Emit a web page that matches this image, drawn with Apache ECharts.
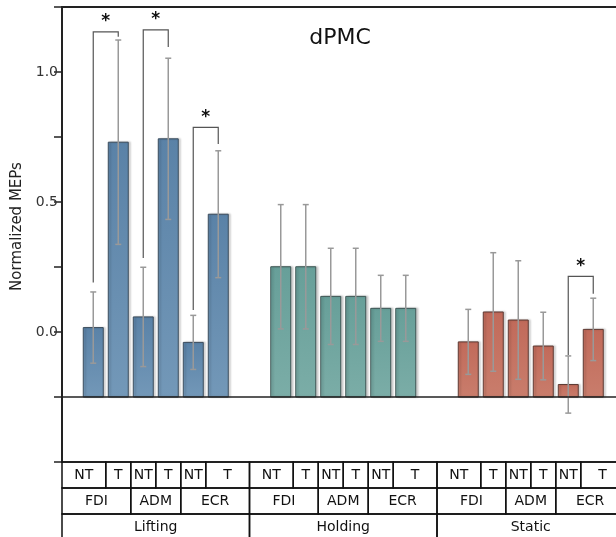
<!DOCTYPE html>
<html>
<head>
<meta charset="utf-8">
<title>dPMC</title>
<script src="https://cdn.jsdelivr.net/npm/echarts@6/dist/echarts.min.js"></script>
<style>
  html, body { margin: 0; padding: 0; background: #fff; }
  #chart { width: 616px; height: 537px; }
</style>
</head>
<body>
<div id="chart"></div>
<script>
// Task phases, muscles and conditions shown on the three-level axis table
const groups = ['Lifting', 'Holding', 'Static'];
const muscles = ['FDI', 'ADM', 'ECR'];
const conditions = ['NT', 'T'];

// Mean normalized MEPs per bar (FDI NT, FDI T, ADM NT, ADM T, ECR NT, ECR T)
const liftingMean = [0.017, 0.730, 0.058, 0.743, -0.040, 0.453];
const holdingMean = [0.251, 0.251, 0.137, 0.137, 0.091, 0.091];
const staticMean  = [-0.038, 0.077, 0.046, -0.054, -0.202, 0.010];

// Standard deviations for the error bars
const liftingSD = [0.137, 0.393, 0.191, 0.310, 0.104, 0.244];
const holdingSD = [0.239, 0.239, 0.185, 0.185, 0.127, 0.127];
const staticSD  = [0.125, 0.228, 0.228, 0.130, 0.110, 0.120];

// Significance brackets: [group, left bar, right bar, left foot, top, right foot]
const brackets = [
  [0, 0, 1, 0.190, 1.154, 1.136],
  [0, 2, 3, 0.285, 1.162, 1.096],
  [0, 4, 5, 0.085, 0.787, 0.723],
  [2, 4, 5, -0.088, 0.214, 0.147]
];

// Y axis tick labels that are printed
const yTickLabels = [0.0, 0.5, 1.0];

const means = [liftingMean, holdingMean, staticMean];
const sds = [liftingSD, holdingSD, staticSD];

const barBase = -0.25;
const groupSpan = 7.5;         // slots per group
const firstOffset = 1.25;      // centre of first bar inside a group
const barsPerGroup = 6;
const xVisibleMax = 22.16;     // the last group runs past the right edge

const palettes = [
  { top: '#5a82a7', bottom: '#7398b8', stroke: '#3b4c5c' },
  { top: '#679f99', bottom: '#7bada7', stroke: '#3d5553' },
  { top: '#c16a5a', bottom: '#c97d6c', stroke: '#5e3a33' }
];

function barX(g, i) { return g * groupSpan + firstOffset + i; }

// bar data: [x, mean, sd, group]
const barData = [];
means.forEach((arr, g) => arr.forEach((v, i) => {
  barData.push([barX(g, i), v, sds[g][i], g]);
}));

// axis table cells: [x0, x1, row, label]
const cellData = [];
groups.forEach((name, g) => {
  const g0 = g * groupSpan, g1 = (g + 1) * groupSpan;
  for (let i = 0; i < barsPerGroup; i++) {
    const x0 = i === 0 ? g0 : barX(g, i) - 0.5;
    const x1 = i === barsPerGroup - 1 ? g1 : barX(g, i) + 0.5;
    cellData.push([x0, x1, 0, conditions[i % 2]]);
  }
  muscles.forEach((m, k) => {
    const x0 = k === 0 ? g0 : barX(g, 2 * k) - 0.5;
    const x1 = k === muscles.length - 1 ? g1 : barX(g, 2 * k + 1) + 0.5;
    cellData.push([x0, x1, 1, m]);
  });
  cellData.push([g0, g1, 2, name]);
});

const bracketData = brackets.map(b => [barX(b[0], b[1]), barX(b[0], b[2]), b[3], b[4], b[5]]);

const FONT = '"DejaVu Sans", Verdana, sans-serif';

const chart = echarts.init(document.getElementById('chart'), null, { renderer: 'canvas' });

chart.setOption({
  animation: false,
  backgroundColor: '#fff',
  title: {
    text: 'dPMC',
    left: 335,
    top: 22,
    textAlign: 'center',
    textStyle: { fontFamily: FONT, fontSize: 22, fontWeight: 'normal', color: '#111' }
  },
  grid: { left: 62, right: 0, top: 7, bottom: 75 },
  xAxis: [
    {
      type: 'value', min: 0, max: xVisibleMax, position: 'bottom',
      axisLine: { show: true, onZero: false, lineStyle: { color: '#222', width: 1.5 } },
      axisTick: { show: false }, axisLabel: { show: false }, splitLine: { show: false }
    },
    {
      type: 'value', min: 0, max: xVisibleMax, position: 'top',
      axisLine: { show: true, onZero: false, lineStyle: { color: '#222', width: 2 } },
      axisTick: { show: false }, axisLabel: { show: false }, splitLine: { show: false }
    }
  ],
  yAxis: {
    type: 'value', min: -0.5, max: 1.25, interval: 0.25,
    name: 'Normalized MEPs', nameLocation: 'middle', nameGap: 36,
    nameTextStyle: { fontFamily: FONT, fontSize: 15, color: '#222', padding: [0, 0, 0, 16] },
    axisLine: { show: true, lineStyle: { color: '#222', width: 2 } },
    axisTick: { show: true, inside: false, length: 8, lineStyle: { color: '#222', width: 1.5 } },
    axisLabel: {
      fontFamily: FONT, fontSize: 14, color: '#333', margin: 4,
      formatter: v => yTickLabels.some(t => Math.abs(t - v) < 1e-9) ? v.toFixed(1) : ''
    },
    splitLine: { show: false }
  },
  series: [
    {
      name: 'bars',
      type: 'custom',
      data: barData,
      encode: { x: 0, y: 1 },
      clip: false,
      z: 2,
      renderItem: function (params, api) {
        const x = api.value(0), v = api.value(1), g = api.value(3);
        const w = api.size([1, 0])[0] * 0.8;
        const top = api.coord([x, v]);
        const base = api.coord([x, barBase]);
        const p = palettes[g];
        return {
          type: 'rect',
          shape: { x: top[0] - w / 2, y: top[1], width: w, height: base[1] - top[1] },
          style: {
            fill: new echarts.graphic.LinearGradient(0, 0, 0, 1, [
              { offset: 0, color: p.top }, { offset: 1, color: p.bottom }
            ]),
            stroke: p.stroke,
            lineWidth: 1,
            shadowColor: 'rgba(0,0,0,0.18)',
            shadowBlur: 2,
            shadowOffsetX: 2
          }
        };
      },
      markLine: {
        silent: true,
        symbol: 'none',
        label: { show: false },
        lineStyle: { color: '#222', width: 1.5, type: 'solid' },
        data: [{ yAxis: barBase }]
      }
    },
    {
      name: 'error',
      type: 'custom',
      data: barData,
      encode: { x: 0, y: 1 },
      clip: false,
      z: 3,
      renderItem: function (params, api) {
        const x = api.value(0), v = api.value(1), sd = api.value(2);
        const hi = api.coord([x, v + sd]);
        const lo = api.coord([x, v - sd]);
        const cap = 3;
        const st = { stroke: '#999', lineWidth: 1.5 };
        return {
          type: 'group',
          children: [
            { type: 'line', shape: { x1: hi[0], y1: hi[1], x2: lo[0], y2: lo[1] }, style: st },
            { type: 'line', shape: { x1: hi[0] - cap, y1: hi[1], x2: hi[0] + cap, y2: hi[1] }, style: st },
            { type: 'line', shape: { x1: lo[0] - cap, y1: lo[1], x2: lo[0] + cap, y2: lo[1] }, style: st }
          ]
        };
      }
    },
    {
      name: 'significance',
      type: 'custom',
      data: bracketData,
      encode: { x: 0, y: 3 },
      clip: false,
      z: 4,
      renderItem: function (params, api) {
        const xl = api.value(0), xr = api.value(1);
        const a = api.coord([xl, api.value(2)]);
        const b = api.coord([xl, api.value(3)]);
        const c = api.coord([xr, api.value(3)]);
        const d = api.coord([xr, api.value(4)]);
        return {
          type: 'group',
          children: [
            {
              type: 'polyline',
              shape: { points: [a, b, c, d] },
              style: { stroke: '#555', lineWidth: 1.2, fill: 'none' }
            },
            {
              type: 'text',
              style: {
                text: '*', x: (b[0] + c[0]) / 2, y: b[1] - 10,
                align: 'center', verticalAlign: 'middle',
                font: 'bold 17px ' + FONT, fill: '#111'
              }
            }
          ]
        };
      }
    },
    {
      name: 'axisTable',
      type: 'custom',
      data: cellData,
      encode: { x: [0, 1] },
      clip: false,
      z: 5,
      renderItem: function (params, api) {
        const rowH = 26;
        const p0 = api.coord([api.value(0), -0.5]);
        const p1 = api.coord([api.value(1), -0.5]);
        const row = api.value(2);
        const y0 = p0[1] + row * rowH;
        const label = cellData[params.dataIndex][3];
        return {
          type: 'group',
          children: [
            {
              type: 'rect',
              shape: { x: p0[0], y: y0, width: p1[0] - p0[0], height: rowH },
              style: { fill: 'none', stroke: '#111', lineWidth: 1.5 }
            },
            {
              type: 'text',
              style: {
                text: label, x: (p0[0] + p1[0]) / 2, y: y0 + rowH / 2,
                align: 'center', verticalAlign: 'middle',
                font: '14px ' + FONT, fill: '#111'
              }
            }
          ]
        };
      }
    }
  ]
});
</script>
</body>
</html>
